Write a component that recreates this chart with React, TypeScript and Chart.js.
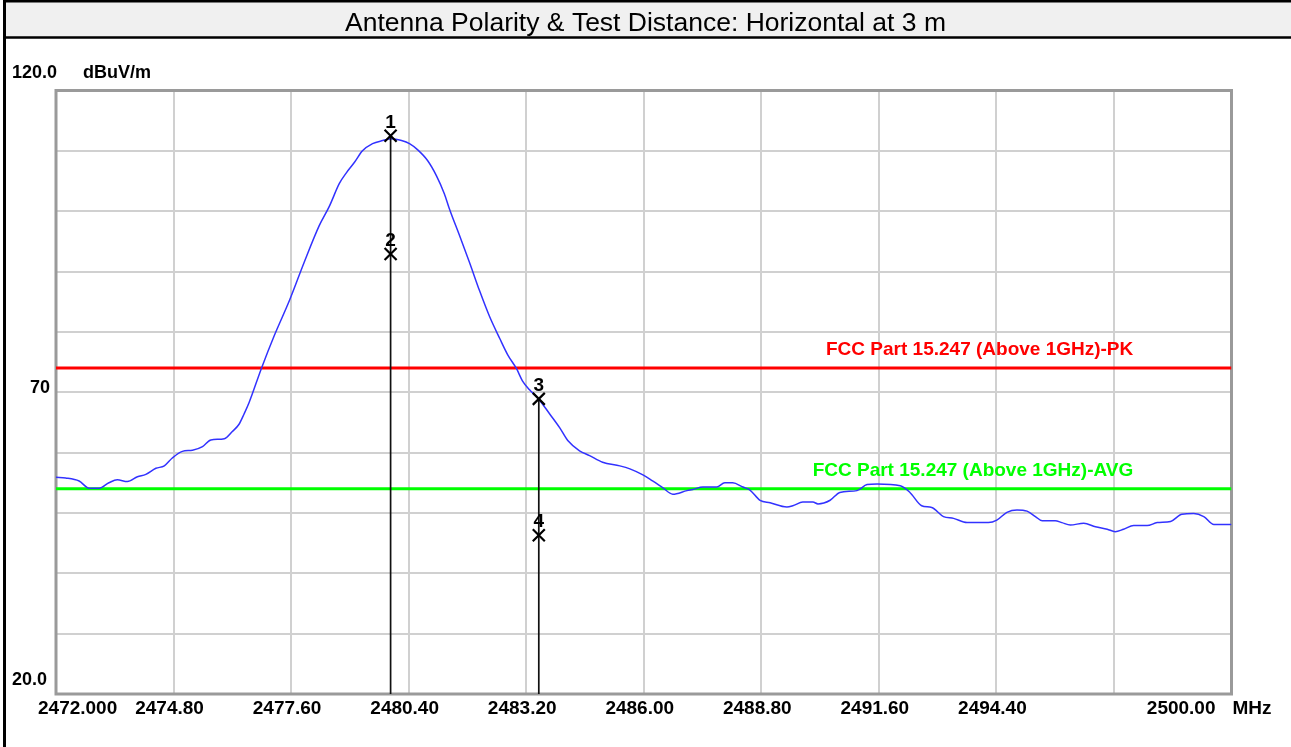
import React, { useEffect, useRef } from "react";
import { Chart, registerables } from "chart.js";

Chart.register(...registerables);

const TITLE = "Antenna Polarity & Test Distance: Horizontal at 3 m";
const Y_UNIT = "dBuV/m";
const X_UNIT = "MHz";

const X_MIN = 2472;
const X_MAX = 2500;
const Y_MIN = 20;
const Y_MAX = 120;

const xTickValues = [2472, 2474.8, 2477.6, 2480.4, 2483.2, 2486.0, 2488.8, 2491.6, 2494.4, 2497.2, 2500];
const xTickLabels = ["2472.000", "2474.80", "2477.60", "2480.40", "2483.20", "2486.00", "2488.80", "2491.60", "2494.40", "", "2500.00"];
const yTickValues = [20, 30, 40, 50, 60, 70, 80, 90, 100, 110, 120];
const yLabelValues = [120, 70, 20];
const yLabelTexts = ["120.0", "70", "20.0"];

const traceFreq = [
  2472.00, 2472.23, 2472.55, 2472.79, 2473.03, 2473.26, 2473.46, 2473.70, 2473.94, 2474.14,
  2474.38, 2474.58, 2474.77, 2475.01, 2475.25, 2475.49, 2475.69, 2476.01, 2476.20, 2476.36,
  2476.48, 2476.60, 2476.89, 2477.20, 2477.56, 2477.91, 2478.27, 2478.51, 2478.75, 2478.92,
  2479.11, 2479.30, 2479.54, 2479.78, 2479.99, 2480.23, 2480.42, 2480.61, 2480.85, 2481.06,
  2481.25, 2481.37, 2481.61, 2481.85, 2482.09, 2482.33, 2482.57, 2482.76, 2482.97, 2483.11,
  2483.28, 2483.47, 2483.76, 2484.00, 2484.19, 2484.47, 2484.71, 2485.02, 2485.43, 2485.67,
  2485.98, 2486.21, 2486.45, 2486.69, 2487.03, 2487.17, 2487.41, 2487.74, 2487.93, 2488.12,
  2488.36, 2488.53, 2488.77, 2489.01, 2489.41, 2489.55, 2489.79, 2490.03, 2490.15, 2490.44,
  2490.67, 2491.08, 2491.32, 2491.56, 2492.11, 2492.34, 2492.62, 2492.86, 2493.14, 2493.38,
  2493.70, 2493.93, 2494.21, 2494.41, 2494.65, 2494.89, 2495.13, 2495.33, 2495.49, 2495.80,
  2495.96, 2496.16, 2496.48, 2496.76, 2497.04, 2497.23, 2497.43, 2497.67, 2497.99, 2498.23,
  2498.55, 2498.82, 2499.10, 2499.34, 2499.58, 2499.82, 2500.00,
];
const traceLevel = [
  55.9, 55.8, 55.3, 54.1, 54.1, 55.0, 55.5, 55.2, 56.0, 56.4,
  57.4, 57.8, 59.1, 60.2, 60.4, 61.0, 62.1, 62.3, 63.5, 64.7,
  66.4, 68.3, 73.9, 79.4, 85.2, 91.5, 97.6, 100.8, 104.6, 106.4,
  108.1, 110.0, 111.2, 111.7, 112.0, 111.7, 111.2, 110.2, 108.4, 105.9,
  102.9, 100.4, 96.0, 91.5, 86.8, 82.5, 78.9, 76.2, 73.9, 71.9,
  70.4, 69.1, 66.4, 64.1, 62.0, 60.3, 59.5, 58.4, 57.8, 57.3,
  56.3, 55.3, 54.2, 53.1, 53.7, 53.9, 54.3, 54.3, 55.0, 55.0,
  54.3, 53.8, 52.1, 51.7, 51.0, 51.2, 51.8, 51.8, 51.5, 52.1,
  53.4, 53.7, 54.7, 54.8, 54.5, 53.4, 51.2, 50.9, 49.4, 49.1,
  48.4, 48.4, 48.4, 48.8, 50.1, 50.5, 50.3, 49.4, 48.7, 48.7,
  48.4, 48.0, 48.3, 47.7, 47.3, 46.9, 47.3, 47.9, 47.9, 48.4,
  48.6, 49.8, 49.9, 49.4, 48.1, 48.1, 48.1,
];

const limitNames = ["FCC Part 15.247 (Above 1GHz)-PK", "FCC Part 15.247 (Above 1GHz)-AVG"];
const limitLevels = [74, 54];
const limitColors = ["#ff0000", "#00ff00"];
const limitLabelEndFreq = 2497.66;

const markerLabels = ["1", "2", "3", "4"];
const markerFreq = [2479.97, 2479.97, 2483.5, 2483.5];
const markerLevel = [112.5, 92.9, 68.9, 46.3];

const FONT = '"Liberation Sans", Arial, sans-serif';

const framePlugin = {
  id: "framePlugin",
  beforeDraw(chart: any) {
    const ctx = chart.ctx;
    const W = chart.width;
    const H = chart.height;
    ctx.save();
    ctx.fillStyle = "#ffffff";
    ctx.fillRect(0, 0, W, H);
    ctx.fillStyle = "#f0f0f0";
    ctx.fillRect(5, 2, W, 35);
    ctx.strokeStyle = "#000000";
    ctx.lineWidth = 2.5;
    ctx.beginPath();
    ctx.moveTo(3, 1.2);
    ctx.lineTo(W, 1.2);
    ctx.moveTo(3, 37.5);
    ctx.lineTo(W, 37.5);
    ctx.stroke();
    ctx.lineWidth = 3;
    ctx.beginPath();
    ctx.moveTo(4.5, 0);
    ctx.lineTo(4.5, H);
    ctx.stroke();
    ctx.fillStyle = "#000000";
    ctx.font = `26.5px ${FONT}`;
    ctx.textAlign = "center";
    ctx.textBaseline = "alphabetic";
    ctx.fillText(TITLE, W / 2, 31);
    ctx.restore();
  },
  beforeDatasetsDraw(chart: any) {
    const ctx = chart.ctx;
    const a = chart.chartArea;
    ctx.save();
    ctx.strokeStyle = "#9a9a9a";
    ctx.lineWidth = 3;
    ctx.strokeRect(a.left, a.top, a.right - a.left, a.bottom - a.top);
    ctx.restore();
  },
  afterDatasetsDraw(chart: any) {
    const ctx = chart.ctx;
    const a = chart.chartArea;
    const xs = chart.scales.x;
    const ys = chart.scales.y;
    ctx.save();
    ctx.textBaseline = "alphabetic";
    // limit labels
    ctx.font = `bold 19px ${FONT}`;
    ctx.textAlign = "right";
    limitNames.forEach((name, i) => {
      ctx.fillStyle = limitColors[i];
      ctx.fillText(name, xs.getPixelForValue(limitLabelEndFreq), ys.getPixelForValue(limitLevels[i]) - 13);
    });
    // marker numbers
    ctx.fillStyle = "#000000";
    ctx.font = `bold 19px ${FONT}`;
    ctx.textAlign = "center";
    markerLabels.forEach((lab, i) => {
      ctx.fillText(lab, xs.getPixelForValue(markerFreq[i]), ys.getPixelForValue(markerLevel[i]) - 8);
    });
    // y labels
    ctx.font = `bold 18px ${FONT}`;
    yLabelValues.forEach((v, i) => {
      const py = ys.getPixelForValue(v);
      if (v === Y_MAX) {
        ctx.textAlign = "left";
        ctx.fillText(yLabelTexts[i], 12, py - 12.5);
        ctx.fillText(Y_UNIT, 83, py - 12.5);
      } else if (v === Y_MIN) {
        ctx.textAlign = "left";
        ctx.fillText(yLabelTexts[i], 12, py - 9);
      } else {
        ctx.textAlign = "right";
        ctx.fillText(yLabelTexts[i], a.left - 6, py + 1);
      }
    });
    // x labels
    ctx.font = `bold 19px ${FONT}`;
    const baseX = a.bottom + 20;
    xTickValues.forEach((v, i) => {
      const lab = xTickLabels[i];
      if (!lab) return;
      const px = xs.getPixelForValue(v);
      if (i === 0) {
        ctx.textAlign = "left";
        ctx.fillText(lab, px - 18, baseX);
      } else if (i === xTickValues.length - 1) {
        ctx.textAlign = "right";
        ctx.fillText(lab, px - 16, baseX);
        ctx.textAlign = "left";
        ctx.fillText(X_UNIT, px + 1, baseX);
      } else {
        ctx.textAlign = "center";
        ctx.fillText(lab, px - 4, baseX);
      }
    });
    ctx.restore();
  },
};

export default function App() {
  const canvasRef = useRef<HTMLCanvasElement | null>(null);

  useEffect(() => {
    const canvas = canvasRef.current;
    if (!canvas) return;

    const trace = traceFreq.map((f, i) => ({ x: f, y: traceLevel[i] }));
    const markers = markerFreq.map((f, i) => ({ x: f, y: markerLevel[i] }));
    const uniqueFreqs = Array.from(new Set(markerFreq));
    const vlineSets = uniqueFreqs.map((f) => {
      const top = Math.max(...markerLevel.filter((_, i) => markerFreq[i] === f));
      return {
        data: [
          { x: f, y: top },
          { x: f, y: Y_MIN },
        ],
        borderColor: "#111111",
        borderWidth: 1.7,
        pointRadius: 0,
        tension: 0,
        fill: false,
      };
    });

    const datasets: any[] = [
      {
        data: markers,
        showLine: false,
        pointStyle: "crossRot",
        pointRadius: 8.5,
        pointBorderWidth: 2.2,
        pointBorderColor: "#000000",
        pointBackgroundColor: "#000000",
        clip: false,
      },
      ...vlineSets,
      {
        data: trace,
        borderColor: "#3232ff",
        borderWidth: 1.5,
        pointRadius: 0,
        cubicInterpolationMode: "monotone",
        fill: false,
      },
      ...limitLevels.map((lv, i) => ({
        data: [
          { x: X_MIN, y: lv },
          { x: X_MAX, y: lv },
        ],
        borderColor: limitColors[i],
        borderWidth: 3,
        pointRadius: 0,
        tension: 0,
        fill: false,
      })),
    ];

    const gridOpts = { color: "#d0d0d0", lineWidth: 2, drawTicks: false };

    const chart = new Chart(canvas, {
      type: "line",
      data: { datasets },
      options: {
        responsive: false,
        maintainAspectRatio: false,
        animation: false,
        devicePixelRatio: 1,
        layout: { padding: { left: 56, top: 90.5, right: 59.5, bottom: 53 } },
        plugins: { legend: { display: false }, tooltip: { enabled: false }, title: { display: false } },
        events: [],
        scales: {
          x: {
            type: "linear",
            min: X_MIN,
            max: X_MAX,
            afterBuildTicks: (s: any) => {
              s.ticks = xTickValues.map((v) => ({ value: v }));
            },
            afterFit: (s: any) => {
              s.height = 0;
            },
            ticks: { display: false },
            grid: gridOpts,
            border: { display: false },
          },
          y: {
            type: "linear",
            min: Y_MIN,
            max: Y_MAX,
            afterBuildTicks: (s: any) => {
              s.ticks = yTickValues.map((v) => ({ value: v }));
            },
            afterFit: (s: any) => {
              s.width = 0;
            },
            ticks: { display: false },
            grid: gridOpts,
            border: { display: false },
          },
        },
      } as any,
      plugins: [framePlugin as any],
    });

    return () => chart.destroy();
  }, []);

  return (
    <div style={{ position: "fixed", left: 0, top: 0, width: 1291, height: 747, background: "#ffffff" }}>
      <canvas ref={canvasRef} width={1291} height={747} style={{ display: "block", width: 1291, height: 747 }} />
    </div>
  );
}
